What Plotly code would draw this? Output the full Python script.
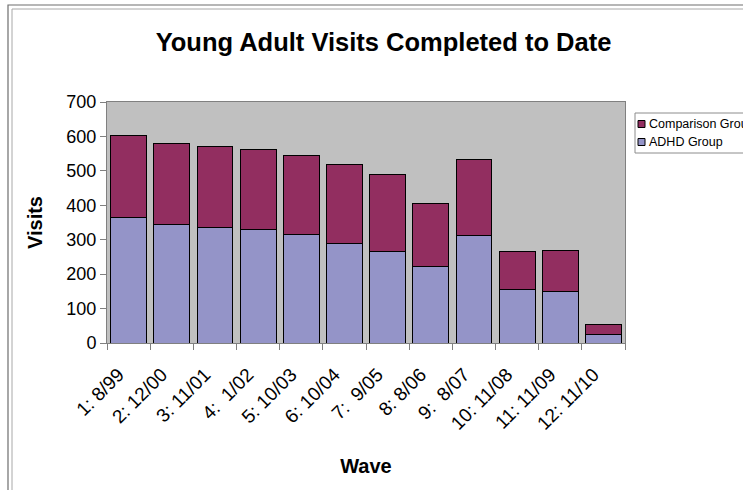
import plotly.graph_objects as go

# Visit counts per wave (stacked: ADHD group at the bottom, comparison group on top)
waves = ["1: 8/99", "2: 12/00", "3: 11/01", "4:  1/02", "5: 10/03", "6: 10/04",
         "7:  9/05", "8: 8/06", "9:  8/07", "10: 11/08", "11: 11/09", "12: 11/10"]
adhd = [364, 343, 336, 331, 316, 290, 267, 223, 311, 156, 151, 26]
comparison = [239, 236, 235, 232, 229, 228, 221, 182, 221, 111, 118, 28]
y_ticks = [0, 100, 200, 300, 400, 500, 600, 700]

series = [
    ("ADHD Group", adhd, "#9494C8"),
    ("Comparison Group", comparison, "#922E60"),
]

W, H = 743, 490
L, R, T, B = 107, 118, 102, 147
pw, ph = W - L - R, H - T - B


def px_x(x):
    return (x - L) / pw


def px_y(y):
    return (H - B - y) / ph


fig = go.Figure()
for name, vals, color in series:
    fig.add_trace(go.Bar(
        x=waves, y=vals, name=name, showlegend=False,
        marker=dict(color=color, line=dict(color="#000000", width=1)),
    ))

font = "Arial, Liberation Sans, sans-serif"

# double frame around the chart
shapes = [
    dict(type="rect", xref="paper", yref="paper",
         x0=px_x(8), x1=px_x(760), y0=px_y(5), y1=px_y(510),
         line=dict(color="#6E6E6E", width=1.2), fillcolor="rgba(0,0,0,0)", layer="below"),
    dict(type="rect", xref="paper", yref="paper",
         x0=px_x(12), x1=px_x(760), y0=px_y(9), y1=px_y(510),
         line=dict(color="#A8A8A8", width=1), fillcolor="rgba(0,0,0,0)", layer="below"),
    # legend box
    dict(type="rect", xref="paper", yref="paper",
         x0=px_x(635), x1=px_x(760), y0=px_y(113), y1=px_y(153),
         line=dict(color="#8C8C8C", width=1), fillcolor="white"),
]
annotations = []

# legend entries, top to bottom in reverse stacking order
for i, (name, vals, color) in enumerate(reversed(series)):
    cy = 124 + i * 18
    shapes.append(dict(type="rect", xref="paper", yref="paper",
                       x0=px_x(638), x1=px_x(645), y0=px_y(cy - 3.5), y1=px_y(cy + 3.5),
                       line=dict(color="#000000", width=1), fillcolor=color))
    annotations.append(dict(text=name, xref="paper", yref="paper",
                            x=px_x(647), y=px_y(cy), xanchor="left", yanchor="middle",
                            showarrow=False, font=dict(size=12.5, family=font, color="black")))

fig.update_layout(
    width=W, height=H,
    margin=dict(l=L, r=R, t=T, b=B, autoexpand=False),
    barmode="stack", bargap=0.17,
    paper_bgcolor="white", plot_bgcolor="#C0C0C0",
    font=dict(family=font, color="black"),
    title=dict(text="<b>Young Adult Visits Completed to Date</b>",
               font=dict(size=25.5, family=font), xref="container", x=383.5 / W,
               xanchor="center", y=1 - 42 / H, yanchor="middle"),
    showlegend=False,
    shapes=shapes,
    annotations=annotations,
    xaxis=dict(
        tickangle=-45, tickson="boundaries", ticks="outside", ticklen=6,
        tickcolor="#808080", showline=True, linecolor="#808080", mirror=True,
        tickfont=dict(size=19, family=font), showgrid=False,
        ticklabelstandoff=12, ticklabelshift=-10,
        title=dict(text="<b>Wave</b>", font=dict(size=20, family=font), standoff=26),
    ),
    yaxis=dict(
        range=[0, 700], tickvals=y_ticks, ticks="outside", ticklen=6,
        tickcolor="#808080", showline=True, linecolor="#808080", mirror=True,
        showgrid=False, zeroline=False, tickfont=dict(size=18, family=font),
        title=dict(text="<b>Visits</b>", font=dict(size=20, family=font), standoff=18),
    ),
)

fig.write_html("out.html")
